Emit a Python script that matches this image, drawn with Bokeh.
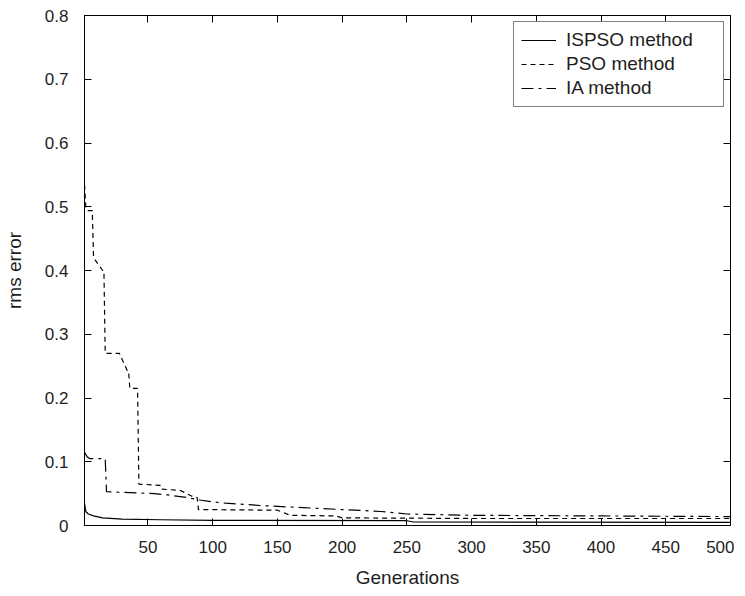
from bokeh.plotting import figure
from bokeh.models import LinearAxis, FixedTicker, Range1d
from bokeh.embed import file_html
from bokeh.resources import INLINE

# ---- data ----
gen_ispso = [1, 2, 4, 8, 15, 30, 60, 100, 250, 255, 500]
rms_ispso = [0.035, 0.022, 0.018, 0.015, 0.012, 0.010, 0.009, 0.008, 0.0075, 0.0055, 0.005]

gen_pso = [1, 2, 3, 7, 8, 15, 16, 17, 28, 34, 35, 36, 42, 43, 60, 61, 75, 84, 88, 89,
           150, 160, 195, 200, 300, 500]
rms_pso = [0.535, 0.50, 0.494, 0.494, 0.42, 0.40, 0.40, 0.27, 0.27, 0.243, 0.243, 0.215,
           0.215, 0.065, 0.063, 0.057, 0.055, 0.046, 0.044, 0.025,
           0.024, 0.016, 0.015, 0.012, 0.011, 0.011]

gen_ia = [1, 3, 5, 17, 18, 55, 65, 80, 90, 100, 110, 140, 170, 200, 230, 250, 300, 400, 500]
rms_ia = [0.115, 0.108, 0.105, 0.105, 0.053, 0.050, 0.048, 0.044, 0.040, 0.037, 0.035,
          0.031, 0.028, 0.025, 0.022, 0.018, 0.016, 0.015, 0.014]

x_ticks = [50, 100, 150, 200, 250, 300, 350, 400, 450, 500]
y_ticks = [0, 0.1, 0.2, 0.3, 0.4, 0.5, 0.6, 0.7, 0.8]
y_tick_labels = ["0", "0.1", "0.2", "0.3", "0.4", "0.5", "0.6", "0.7", "0.8"]

series_names = ["ISPSO method", "PSO method", "IA method"]

FONT = "Liberation Sans"
TXT = "#1e1e1e"

p = figure(frame_width=646, frame_height=510,
           min_border_left=81, min_border_right=4, min_border_top=15, min_border_bottom=62,
           x_range=Range1d(1, 500), y_range=Range1d(0, 0.8),
           output_backend="svg", toolbar_location=None)
p.grid.visible = False
p.outline_line_color = "black"
p.outline_line_width = 1
p.background_fill_color = "white"
p.border_fill_color = "white"

# lines
p.line(gen_ispso, rms_ispso, line_color="black", line_width=1.2, legend_label=series_names[0])
p.line(gen_pso, rms_pso, line_color="black", line_width=1.2, line_dash="5 4", legend_label=series_names[1])
p.line(gen_ia, rms_ia, line_color="black", line_width=1.2, line_dash="12 5 3 5", legend_label=series_names[2])

# main axes
xa = p.xaxis[0]
xa.ticker = FixedTicker(ticks=x_ticks)
ya = p.yaxis[0]
ya.ticker = FixedTicker(ticks=y_ticks)
ya.major_label_overrides = {t: l for t, l in zip(y_ticks, y_tick_labels)}
for ax in (xa, ya):
    ax.major_tick_in = 7
    ax.major_tick_out = 0
    ax.minor_tick_line_color = None
    ax.axis_line_color = "black"
    ax.major_tick_line_color = "black"
    ax.major_label_text_font = FONT
    ax.major_label_text_font_size = "17px"
    ax.major_label_text_color = TXT
    ax.axis_label_text_font = FONT
    ax.axis_label_text_font_size = "19px"
    ax.axis_label_text_font_style = "normal"
    ax.axis_label_text_color = TXT
xa.axis_label = "Generations"
ya.axis_label = "rms error"
xa.major_label_standoff = 15
xa.axis_label_standoff = 11
ya.major_label_standoff = 16
ya.axis_label_standoff = 17

# mirrored tick marks on top and right (labels not drawn)
top = LinearAxis(ticker=FixedTicker(ticks=x_ticks))
right = LinearAxis(ticker=FixedTicker(ticks=y_ticks))
for ax in (top, right):
    ax.major_tick_in = 7
    ax.major_tick_out = 0
    ax.minor_tick_line_color = None
    ax.major_label_text_font_size = "1px"
    ax.major_label_text_color = None
    ax.major_label_standoff = 0
    ax.axis_line_color = "black"
p.add_layout(top, "above")
p.add_layout(right, "right")

# legend
lg = p.legend[0]
lg.location = "top_right"
lg.margin = 6
lg.padding = 7
lg.spacing = 2
lg.label_height = 22
lg.glyph_width = 35
lg.glyph_height = 22
lg.label_standoff = 10
lg.label_width = 150
lg.label_text_font = FONT
lg.label_text_font_size = "19px"
lg.label_text_color = TXT
lg.border_line_color = "black"
lg.border_line_width = 1
lg.background_fill_color = "white"
lg.background_fill_alpha = 1

open("out.html", "w").write(file_html(p, INLINE))
